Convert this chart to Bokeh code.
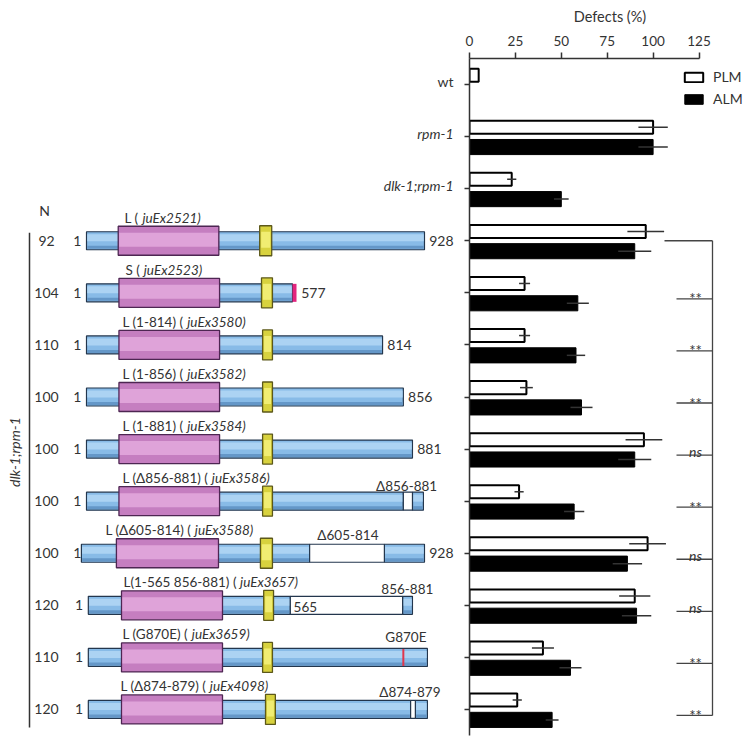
import math
from bokeh.plotting import figure
from bokeh.layouts import row
from bokeh.models import FactorRange, Range1d, FixedTicker, ColumnDataSource, CustomJSTickFormatter
from bokeh.transform import dodge
from bokeh.core.properties import value
from bokeh.embed import file_html
from bokeh.resources import INLINE

# ---------------- data ----------------
categories = ["wt", "rpm-1", "dlk-1;rpm-1",
              "juEx2521", "juEx2523", "juEx3580", "juEx3582", "juEx3584",
              "juEx3586", "juEx3588", "juEx3657", "juEx3659", "juEx4098"]
genotype_labels = ["wt", "rpm-1", "dlk-1;rpm-1"]
genotype_italic = [False, True, True]
plm = [5, 100, 23, 96, 30, 30, 31, 95, 27, 97, 90, 40, 26]
plm_err = [0, 8, 2.5, 10, 3, 3, 3.5, 10, 2.5, 10, 8.5, 6, 2.5]
alm = [0, 100, 50, 90, 59, 58, 61, 90, 57, 86, 91, 55, 45]
alm_err = [0, 8, 4, 9, 6, 5, 6, 9, 5.5, 8, 8, 6, 3.5]
x_ticks = [0, 25, 50, 75, 100, 125]
significance = ["**", "**", "**", "ns", "**", "ns", "ns", "**", "**"]

constructs = categories[3:]
n_animals = [92, 104, 110, 100, 100, 100, 100, 120, 110, 120]
construct_name = ["L (", "S (", "L (1-814) (", "L (1-856) (", "L (1-881) (",
                  "L (\u0394856-881) (", "L (\u0394605-814) (", "L(1-565 856-881) (",
                  "L (G870E) (", "L (\u0394874-879) ("]
construct_allele = ["juEx2521)", "juEx2523)", "juEx3580)", "juEx3582)", "juEx3584)",
                    "juEx3586)", "juEx3588)", "juEx3657)", "juEx3659)", "juEx4098)"]
# protein pieces, residue coordinates as drawn
segment_row = [0, 1, 2, 3, 4, 5, 5, 6, 6, 7, 7, 8, 9, 9]
segment_start = [1, 1, 1, 1, 1, 1, 895, -13, 818, 6, 868, 6, 6, 903]
segment_end = [928, 566, 813, 870, 895, 870, 925, 613, 928, 560, 895, 936, 890, 936]
deletion_row = [5, 6, 7, 9]
deletion_start = [870, 613, 560, 890]
deletion_end = [895, 818, 868, 903]
kinase_start = [88, 90, 90, 90, 90, 90, 83, 97, 97, 97]
kinase_end = [364, 366, 366, 366, 366, 366, 363, 374, 374, 374]
zipper_start = [476, 481, 484, 484, 484, 484, 478, 487, 484, 492]
zipper_end = [509, 511, 511, 511, 511, 511, 511, 514, 511, 519]
s_tail_row = [1]
s_tail_start = [566]
s_tail_end = [577]
mutation_row = [8]
mutation_pos = [870]
end_label_row = [0, 1, 2, 3, 4, 6]
end_label_text = ["928", "577", "814", "856", "881", "928"]
end_label_pos = [928, 577, 813, 870, 895, 928]
feature_row = [5, 6, 7, 8, 9]
feature_text = ["\u0394856-881", "\u0394605-814", "856-881", "G870E", "\u0394874-879"]
feature_pos = [879, 718, 881, 877, 888]
inner_label_row = [7]
inner_label_text = ["565"]
inner_label_pos = [569]

# ---------------- layout helpers ----------------
FONT = value("Lato")
TXT = "#333333"
UNIT_PX = 677 / 13.0
PX_PER_RES = 0.3646
PX_PER_PCT = 1.836
LEFT_W = 464
AXIS_GAP = 5
FIG_H = 740
TOP = 58


def up(px):
    return px / UNIT_PX


def res(px):
    return 1 + (px - 86) / PX_PER_RES


def pct(px):
    return (px - (LEFT_W + AXIS_GAP)) / PX_PER_PCT


_W = {' ': 0.193, '(': 0.30, ')': 0.30, '-': 0.36, 'L': 0.49, 'S': 0.52, 'G': 0.72,
      'E': 0.56, '\u0394': 0.66}


def text_width(s, size):
    return sum(_W.get(ch, 0.58) for ch in s) * size


yr = FactorRange(factors=categories[::-1], range_padding=0)

# ---------------- left panel: constructs ----------------
left = figure(width=LEFT_W, height=FIG_H, x_range=Range1d(res(0), res(LEFT_W)), y_range=yr,
              x_axis_location=None, y_axis_location=None, toolbar_location=None,
              output_backend="svg", min_border_left=0, min_border_right=0,
              min_border_top=TOP, min_border_bottom=FIG_H - TOP - 677)
left.outline_line_color = None
left.grid.visible = False

BLUE, BLUE_HI, BLUE_LO, BLUE_EDGE = "#88bbe7", "#acd3f3", "#6497c8", "#23364d"
PURP, PURP_HI, PURP_EDGE = "#c57ec0", "#dfa3d9", "#4d2652"
YEL, YEL_HI, YEL_EDGE = "#d8d23e", "#f1ed72", "#5c581a"
BAR_H = up(18)

seg = ColumnDataSource(dict(
    y=[constructs[r] for r in segment_row],
    x=[(s + e) / 2 for s, e in zip(segment_start, segment_end)],
    w=[e - s for s, e in zip(segment_start, segment_end)],
    wh=[e - s - 4 for s, e in zip(segment_start, segment_end)]))
left.rect(x="x", y="y", width="w", height=BAR_H, source=seg,
          fill_color=BLUE, line_color=BLUE_EDGE, line_width=1.2)
left.rect(x="x", y=dodge("y", up(3), range=yr), width="wh", height=up(7), source=seg,
          fill_color=BLUE_HI, line_color=None)
left.rect(x="x", y=dodge("y", -up(6.5), range=yr), width="wh", height=up(3), source=seg,
          fill_color=BLUE_LO, line_color=None)

dele = ColumnDataSource(dict(
    y=[constructs[r] for r in deletion_row],
    x=[(s + e) / 2 for s, e in zip(deletion_start, deletion_end)],
    w=[e - s for s, e in zip(deletion_start, deletion_end)]))
left.rect(x="x", y="y", width="w", height=BAR_H, source=dele,
          fill_color="white", line_color=BLUE_EDGE, line_width=1.2)

tail = ColumnDataSource(dict(
    y=[constructs[r] for r in s_tail_row],
    x=[(s + e) / 2 for s, e in zip(s_tail_start, s_tail_end)],
    w=[e - s for s, e in zip(s_tail_start, s_tail_end)]))
left.rect(x="x", y="y", width="w", height=BAR_H, source=tail,
          fill_color="#e3247e", line_color=None)

mut = ColumnDataSource(dict(y=[constructs[r] for r in mutation_row], x=mutation_pos))
left.segment(x0="x", x1="x", y0=dodge("y", up(8.5), range=yr), y1=dodge("y", -up(8.5), range=yr),
             source=mut, line_color="#e0364c", line_width=2)

kin = ColumnDataSource(dict(
    y=constructs,
    x=[(s + e) / 2 for s, e in zip(kinase_start, kinase_end)],
    w=[e - s for s, e in zip(kinase_start, kinase_end)],
    wh=[e - s - 5 for s, e in zip(kinase_start, kinase_end)]))
left.rect(x="x", y="y", width="w", height=up(29), source=kin,
          fill_color=PURP, line_color=PURP_EDGE, line_width=1.3)
left.rect(x="x", y=dodge("y", up(1), range=yr), width="wh", height=up(14), source=kin,
          fill_color=PURP_HI, line_color=None)

zip_src = ColumnDataSource(dict(
    y=constructs,
    x=[(s + e) / 2 for s, e in zip(zipper_start, zipper_end)],
    w=[e - s for s, e in zip(zipper_start, zipper_end)],
    wh=[e - s - 8 for s, e in zip(zipper_start, zipper_end)]))
left.rect(x="x", y="y", width="w", height=up(30), source=zip_src,
          fill_color=YEL, line_color=YEL_EDGE, line_width=1.3)
left.rect(x="x", y=dodge("y", up(1), range=yr), width="wh", height=up(16), source=zip_src,
          fill_color=YEL_HI, line_color=None)


def label(fig, cats, xs, texts, dy=0.0, size="14px", style="normal", align="left",
          baseline="middle", angle=0.0, color=TXT):
    s = ColumnDataSource(dict(y=cats, x=xs, t=texts))
    fig.text(x="x", y=dodge("y", dy, range=yr), text="t", source=s, text_font=FONT,
             text_font_size=size, text_font_style=style, text_color=color,
             text_align=align, text_baseline=baseline, angle=angle)


# construct names (upright part + italic allele)
NAME_SIZE = 13.5
name_px = [124, 125, 122, 122, 122, 122, 105, 123, 122, 120]
allele_px = [p + text_width(t + " ", NAME_SIZE) + 2 for p, t in zip(name_px, construct_name)]
label(left, constructs, [res(v) for v in name_px], construct_name, dy=up(23), size="13.5px")
label(left, constructs, [res(v) for v in allele_px], construct_allele, dy=up(23), size="13.5px",
      style="italic")

# residue 1 labels
first_start = [min(s for r2, s in zip(segment_row, segment_start) if r2 == r) for r in range(len(constructs))]
label(left, constructs, [max(s, 1) - 14 for s in first_start], ["1"] * len(constructs), align="right")

# end labels
label(left, [constructs[r] for r in end_label_row], [p + 13 for p in end_label_pos], end_label_text)

# feature labels above the bars
feat_up = [15, 18, 16, 20, 17]
for i in range(len(feature_row)):
    label(left, [constructs[feature_row[i]]], [feature_pos[i]], [feature_text[i]],
          dy=up(feat_up[i]), size="13.5px", align="center")

label(left, [constructs[r] for r in inner_label_row], inner_label_pos, inner_label_text,
      dy=-up(2), size="13.5px")

# N column
label(left, constructs, [res(46)] * len(constructs), [str(v) for v in n_animals], align="center")
label(left, [constructs[0]], [res(44)], ["N"], dy=up(30), align="center")

# bracket for dlk-1;rpm-1 constructs
br = ColumnDataSource(dict(a=[constructs[0]], b=[constructs[-1]], x=[res(29)]))
left.segment(x0="x", x1="x", y0=dodge("a", up(8), range=yr), y1=dodge("b", -up(18), range=yr),
             source=br, line_color="#333333", line_width=1.5)
label(left, [constructs[4]], [res(14)], ["dlk-1;rpm-1"], dy=-up(3), style="italic",
      align="center", angle=math.pi / 2)

# genotype labels for the first three bar groups
for lab, cat, it in zip(genotype_labels, categories[:3], genotype_italic):
    label(left, [cat], [res(453)], [lab], dy=up(3), style="italic" if it else "normal", align="right")

# ---------------- right panel: bar chart ----------------
RIGHT_W = 750 - LEFT_W
right = figure(width=RIGHT_W, height=FIG_H, x_range=Range1d(0, (RIGHT_W - AXIS_GAP) / PX_PER_PCT),
               y_range=yr, x_axis_location="above", toolbar_location=None, output_backend="svg",
               min_border_left=AXIS_GAP, min_border_right=0, min_border_top=TOP,
               min_border_bottom=FIG_H - TOP - 677)
right.outline_line_color = None
right.grid.visible = False

src = ColumnDataSource(dict(
    cat=categories, plm=plm, alm=alm,
    plm_lo=[v - e for v, e in zip(plm, plm_err)], plm_hi=[v + e for v, e in zip(plm, plm_err)],
    alm_lo=[v - e for v, e in zip(alm, alm_err)], alm_hi=[v + e for v, e in zip(alm, alm_err)]))

PLM_OFF, ALM_OFF = 0.18, -0.20
right.hbar(y=dodge("cat", PLM_OFF, range=yr), left=0, right="plm", height=0.25, source=src,
           fill_color="white", line_color="black", line_width=2, legend_label="PLM")
right.hbar(y=dodge("cat", ALM_OFF, range=yr), left=0, right="alm", height=0.29, source=src,
           fill_color="black", line_color="black", line_width=1, legend_label="ALM")
right.segment(x0="plm_lo", x1="plm_hi", y0=dodge("cat", PLM_OFF, range=yr),
              y1=dodge("cat", PLM_OFF, range=yr), source=src, line_color="#333333", line_width=1.5)
right.segment(x0="alm_lo", x1="alm_hi", y0=dodge("cat", ALM_OFF, range=yr),
              y1=dodge("cat", ALM_OFF, range=yr), source=src, line_color="#333333", line_width=1.5)

# significance bracket vs. the full-length construct
SIG_X, SIG_X0, TOP_X0, SIG_TX = pct(712), pct(676), pct(664), pct(695)
LINE_OFF = -up(6)
sig = ColumnDataSource(dict(cat=categories[4:], t=significance,
                            x0=[SIG_X0] * len(significance), x1=[SIG_X] * len(significance)))
right.segment(x0="x0", x1="x1", y0=dodge("cat", LINE_OFF, range=yr), y1=dodge("cat", LINE_OFF, range=yr),
              source=sig, line_color="#444444", line_width=1.3)
brk = ColumnDataSource(dict(a=[categories[3]], b=[categories[-1]], x=[SIG_X], x0=[TOP_X0]))
right.segment(x0="x0", x1="x", y0="a", y1="a", source=brk, line_color="#444444", line_width=1.3)
right.segment(x0="x", x1="x", y0="a", y1=dodge("b", LINE_OFF, range=yr), source=brk,
              line_color="#444444", line_width=1.3)
star_cats = [c for c, s in zip(categories[4:], significance) if s == "**"]
ns_cats = [c for c, s in zip(categories[4:], significance) if s == "ns"]
label(right, star_cats, [SIG_TX] * len(star_cats), ["**"] * len(star_cats), dy=LINE_OFF + up(0.5),
      size="15px", align="center", baseline="alphabetic")
label(right, ns_cats, [SIG_TX] * len(ns_cats), ["ns"] * len(ns_cats), dy=LINE_OFF + up(4),
      size="14px", style="italic", align="center", baseline="alphabetic")

# axes
xa = right.xaxis[0]
xa.ticker = FixedTicker(ticks=x_ticks)
xa.bounds = (x_ticks[0], x_ticks[-1])
xa.axis_label = "Defects (%)"
xa.axis_label_text_font = "Lato"
xa.axis_label_text_font_size = "14.5px"
xa.axis_label_text_font_style = "normal"
xa.axis_label_text_color = TXT
xa.axis_label_standoff = 8
xa.major_label_text_font = "Lato"
xa.major_label_text_font_size = "13.5px"
xa.major_label_text_color = TXT
xa.major_label_standoff = 7
xa.major_tick_out = 6
xa.major_tick_in = 0
xa.minor_tick_line_color = None
xa.axis_line_width = 1.5
xa.axis_line_color = "#333333"
xa.major_tick_line_width = 1.5
xa.major_tick_line_color = "#333333"

ya = right.yaxis[0]
ya.formatter = CustomJSTickFormatter(code="return '';")
ya.major_label_text_font_size = "1px"
ya.major_label_standoff = 0
ya.major_tick_out = 5
ya.major_tick_in = 0
ya.axis_line_width = 1.5
ya.axis_line_color = "#333333"
ya.major_tick_line_width = 1.5
ya.major_tick_line_color = "#333333"

lg = right.legend[0]
lg.location = (213, 628)
lg.padding = 0
lg.margin = 0
lg.spacing = 5
lg.glyph_width = 23
lg.glyph_height = 12
lg.label_height = 16
lg.label_standoff = 8
lg.label_text_font = "Lato"
lg.label_text_font_size = "14px"
lg.label_text_color = TXT
lg.border_line_color = None
lg.background_fill_alpha = 0

layout = row(left, right)
open("out.html", "w").write(file_html(layout, INLINE))
